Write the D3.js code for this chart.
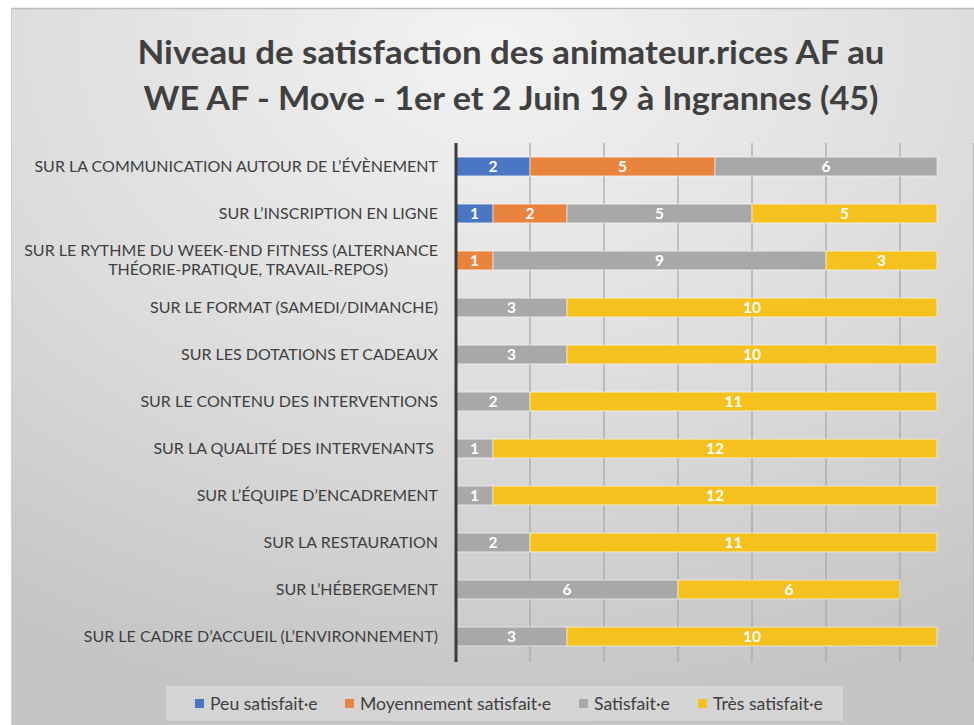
<!DOCTYPE html>
<html>
<head>
<meta charset="utf-8">
<script src="https://cdn.jsdelivr.net/npm/d3@7"></script>
<style>
  body { margin: 0; background: #fff; }
  svg { display: block; font-family: Lato, "Open Sans", sans-serif; }
</style>
</head>
<body>
<div id="chart"></div>
<script>
// Stacked bars: satisfaction of AF animators, WE AF - Move

const categories = [
  "SUR LA COMMUNICATION AUTOUR DE L’ÉVÈNEMENT",
  "SUR L’INSCRIPTION EN LIGNE",
  "SUR LE RYTHME DU WEEK-END FITNESS (ALTERNANCE|THÉORIE-PRATIQUE, TRAVAIL-REPOS)",
  "SUR LE FORMAT (SAMEDI/DIMANCHE)",
  "SUR LES DOTATIONS ET CADEAUX",
  "SUR LE CONTENU DES INTERVENTIONS",
  "SUR LA QUALITÉ DES INTERVENANTS ",
  "SUR L’ÉQUIPE D’ENCADREMENT",
  "SUR LA RESTAURATION",
  "SUR L’HÉBERGEMENT",
  "SUR LE CADRE D’ACCUEIL (L’ENVIRONNEMENT)"
];
const seriesNames = ["Peu satisfait·e", "Moyennement satisfait·e", "Satisfait·e", "Très satisfait·e"];
const peu      = [2, 1, 0, 0, 0, 0, 0, 0, 0, 0, 0];
const moyen    = [5, 2, 1, 0, 0, 0, 0, 0, 0, 0, 0];
const satisf   = [6, 5, 9, 3, 3, 2, 1, 1, 2, 6, 3];
const tres     = [0, 5, 3, 10, 10, 11, 12, 12, 11, 6, 10];
const xTicks = [2, 4, 6, 8, 10, 12, 14];
const titleLines = [
  "Niveau de satisfaction des animateur.rices AF au",
  "WE AF - Move - 1er et 2 Juin 19 à Ingrannes (45)"
];
const titleWidths = [747, 735];

const colors = ["#4a76c4", "#e9843f", "#a8a8a8", "#f5c11f"];

const width = 974, height = 725;
const svg = d3.select("#chart").append("svg")
  .attr("width", width).attr("height", height);

// background panel with soft gradient
const defs = svg.append("defs");
const grad = defs.append("radialGradient")
  .attr("id", "bg").attr("cx", "50%").attr("cy", "5%").attr("r", "95%")
  .attr("fx", "50%").attr("fy", "5%");
grad.append("stop").attr("offset", "0%").attr("stop-color", "#f3f3f3");
grad.append("stop").attr("offset", "55%").attr("stop-color", "#dcdcdc");
grad.append("stop").attr("offset", "100%").attr("stop-color", "#c4c4c4");

svg.append("rect").attr("x", 11).attr("y", 8).attr("width", width - 11).attr("height", height - 8)
  .attr("fill", "url(#bg)");
svg.append("line").attr("x1", 11).attr("x2", width).attr("y1", 8.5).attr("y2", 8.5)
  .attr("stroke", "#bdbdbd").attr("stroke-width", 1.5);
svg.append("line").attr("x1", 11.5).attr("x2", 11.5).attr("y1", 8).attr("y2", height)
  .attr("stroke", "#cfcfcf").attr("stroke-width", 1);

// title
svg.append("g").selectAll("text")
  .data(titleLines)
  .join("text")
  .attr("x", 511)
  .attr("y", (d, i) => 64 + i * 46)
  .attr("text-anchor", "middle")
  .attr("fill", "#404040")
  .attr("textLength", (d, i) => titleWidths[i])
  .attr("lengthAdjust", "spacingAndGlyphs")
  .style("font-size", "32px")
  .style("font-weight", "700")
  .text(d => d);

const data = categories.map((c, i) => ({ cat: c, v: [peu[i], moyen[i], satisf[i], tres[i]] }));
const stackData = data.map(d => {
  let acc = 0;
  return d.v.map((val, k) => {
    const s = { cat: d.cat, k, x0: acc, x1: acc + val, val };
    acc += val;
    return s;
  });
}).flat().filter(s => s.val > 0);

const x = d3.scaleLinear().domain([0, 14]).range([456, 974]);
const y = d3.scaleBand().domain(categories).range([143, 660])
  .paddingInner(0.6).paddingOuter(0.3);

// gridlines
svg.append("g").selectAll("line")
  .data(xTicks)
  .join("line")
  .attr("x1", d => x(d)).attr("x2", d => x(d))
  .attr("y1", 143).attr("y2", 662)
  .attr("stroke", "#a9a9a9").attr("stroke-width", 1.3);

// bars
svg.append("g").selectAll("rect")
  .data(stackData)
  .join("rect")
  .attr("x", d => x(d.x0))
  .attr("y", d => y(d.cat))
  .attr("width", d => x(d.x1) - x(d.x0))
  .attr("height", y.bandwidth())
  .attr("fill", d => colors[d.k])
  .attr("stroke", "rgba(255,255,255,0.55)")
  .attr("stroke-width", 1);

// value labels
svg.append("g").selectAll("text")
  .data(stackData)
  .join("text")
  .attr("x", d => (x(d.x0) + x(d.x1)) / 2)
  .attr("y", d => y(d.cat) + y.bandwidth() / 2)
  .attr("dy", "0.36em")
  .attr("text-anchor", "middle")
  .attr("fill", "#fff")
  .style("font-size", "15.5px")
  .style("font-weight", "700")
  .text(d => d.val);

// category axis
const yAxis = svg.append("g")
  .attr("transform", `translate(${x(0)},0)`)
  .call(d3.axisLeft(y).tickSize(0).tickPadding(18).tickFormat(() => ""));
yAxis.select(".domain").remove();
svg.append("line")
  .attr("x1", x(0)).attr("x2", x(0)).attr("y1", 143).attr("y2", 662)
  .attr("stroke", "#3c3c3c").attr("stroke-width", 3);

yAxis.selectAll(".tick text").each(function(d) {
  const t = d3.select(this)
    .attr("fill", "#404040")
    .style("font-size", "16px")
    .style("font-family", "Lato, sans-serif")
    .style("white-space", "pre");
  const lines = d.split("|");
  t.text(null);
  lines.forEach((ln, i) => {
    t.append("tspan")
      .attr("x", -18)
      .attr("dy", i === 0 ? (0.32 - (lines.length - 1) * 0.6) + "em" : "1.2em")
      .attr("text-anchor", lines.length > 1 && i > 0 ? "middle" : "end")
      .text(ln);
  });
});
// place the second line of the two-line label under the first
yAxis.selectAll(".tick text").each(function() {
  const spans = d3.select(this).selectAll("tspan").nodes();
  if (spans.length > 1) {
    const w0 = spans[0].getComputedTextLength();
    d3.select(spans[1]).attr("x", -18 - w0 / 2 + 17);
  }
});

// legend
const legend = svg.append("g");
legend.append("rect")
  .attr("x", 166).attr("y", 686).attr("width", 677).attr("height", 35)
  .attr("fill", "rgba(255,255,255,0.28)");
const legendX = [195, 345, 579, 698];
const items = legend.selectAll("g.item")
  .data(seriesNames)
  .join("g").attr("class", "item")
  .attr("transform", (d, i) => `translate(${legendX[i]},704)`);
items.append("rect")
  .attr("x", 0).attr("y", -5).attr("width", 9).attr("height", 9)
  .attr("fill", (d, i) => colors[i]);
items.append("text")
  .attr("x", 15).attr("dy", "0.35em")
  .attr("fill", "#404040")
  .style("font-size", "17.6px")
  .text(d => d);
</script>
</body>
</html>
